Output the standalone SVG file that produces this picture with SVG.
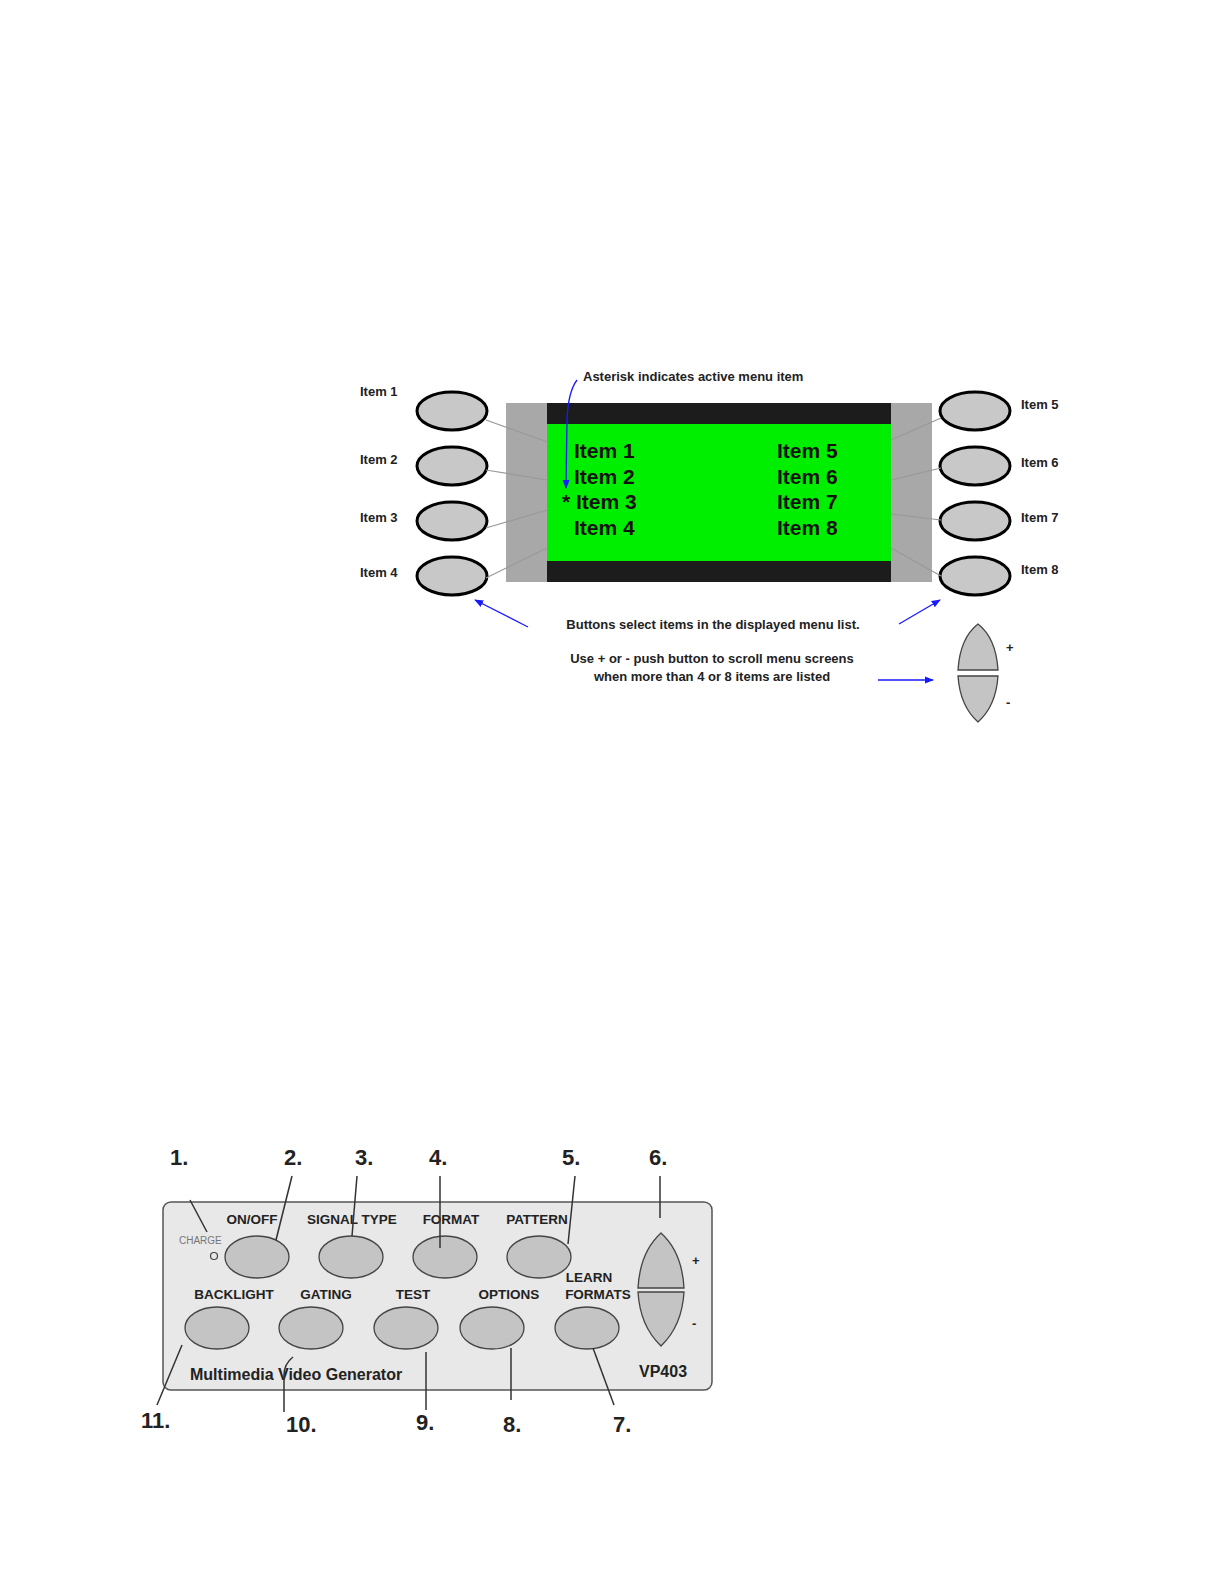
<svg xmlns="http://www.w3.org/2000/svg" width="1224" height="1584" viewBox="0 0 1224 1584">
<style>
text{font-family:"Liberation Sans",Arial,sans-serif;font-weight:bold;fill:#222}
.btn{fill:#c8c8c8;stroke:#000;stroke-width:3}
.pbtn{fill:#c4c4c4;stroke:#444;stroke-width:1.3}
.gl{stroke:#999;stroke-width:1.2}
.bl{stroke:#1a1aff;stroke-width:1.3;fill:none}
.ld{stroke:#333;stroke-width:1.5;fill:none}
.lab{font-size:13px}
.big{font-size:21px;fill:#111}
.num{font-size:22px;fill:#222}
.pl{font-size:13.5px}
</style>
<defs>
<marker id="ar" viewBox="0 0 10 10" refX="9" refY="5" markerWidth="7" markerHeight="7" orient="auto"><path d="M0,1 L10,5 L0,9 z" fill="#1a1aff"/></marker>
</defs>
<rect width="1224" height="1584" fill="#fff"/>
<g id="display">
<rect x="506" y="403" width="426" height="179" fill="#a8a8a8"/>
<rect x="547" y="403" width="344" height="179" fill="#1c1c1c"/>
<rect x="547" y="424" width="344" height="137" fill="#00ee00"/>
<text class="big" x="574" y="458">Item 1</text>
<text class="big" x="574" y="484">Item 2</text>
<text class="big" x="562" y="509">* Item 3</text>
<text class="big" x="574" y="535">Item 4</text>
<text class="big" x="777" y="458">Item 5</text>
<text class="big" x="777" y="484">Item 6</text>
<text class="big" x="777" y="509">Item 7</text>
<text class="big" x="777" y="535">Item 8</text>
</g>
<g id="left-buttons">
<ellipse class="btn" cx="452" cy="411" rx="35" ry="19"/>
<ellipse class="btn" cx="452" cy="466" rx="35" ry="19"/>
<ellipse class="btn" cx="452" cy="521" rx="35" ry="19"/>
<ellipse class="btn" cx="452" cy="576" rx="35" ry="19"/>
<text class="lab" x="360" y="396">Item 1</text>
<text class="lab" x="360" y="464">Item 2</text>
<text class="lab" x="360" y="522">Item 3</text>
<text class="lab" x="360" y="577">Item 4</text>
</g>
<g id="right-buttons">
<ellipse class="btn" cx="975" cy="411" rx="35" ry="19"/>
<ellipse class="btn" cx="975" cy="466" rx="35" ry="19"/>
<ellipse class="btn" cx="975" cy="521" rx="35" ry="19"/>
<ellipse class="btn" cx="975" cy="576" rx="35" ry="19"/>
<text class="lab" x="1021" y="409">Item 5</text>
<text class="lab" x="1021" y="467">Item 6</text>
<text class="lab" x="1021" y="522">Item 7</text>
<text class="lab" x="1021" y="574">Item 8</text>
</g>
<g id="notes">
<text class="lab" x="583" y="381">Asterisk indicates active menu item</text>
<text class="lab" x="713" y="629" text-anchor="middle">Buttons select items in the displayed  menu list.</text>
<text class="lab" x="712" y="663" text-anchor="middle">Use + or - push button to scroll menu screens</text>
<text class="lab" x="712" y="681" text-anchor="middle">when more than 4 or 8 items are listed</text>
</g>
<g id="scroll-top">
<path class="pbtn" d="M958,670 Q960,638 978,624 Q996,638 998,670 Z"/>
<path class="pbtn" d="M958,676 L998,676 Q996,706 978,722 Q960,706 958,676 Z"/>
<text class="lab" x="1006" y="652">+</text>
<text class="lab" x="1006" y="707">-</text>
</g>
<g id="panel">
<rect x="163" y="1202" width="549" height="188" rx="8" fill="#e8e8e8" stroke="#555" stroke-width="1.5"/>
<text x="179" y="1244" font-size="10" style="font-weight:normal;fill:#777">CHARGE</text>
<circle cx="214" cy="1256" r="3.5" fill="none" stroke="#444" stroke-width="1.2"/>
<ellipse class="pbtn" cx="257" cy="1257" rx="32" ry="21"/>
<ellipse class="pbtn" cx="351" cy="1257" rx="32" ry="21"/>
<ellipse class="pbtn" cx="445" cy="1257" rx="32" ry="21"/>
<ellipse class="pbtn" cx="539" cy="1257" rx="32" ry="21"/>
<ellipse class="pbtn" cx="217" cy="1328" rx="32" ry="21"/>
<ellipse class="pbtn" cx="311" cy="1328" rx="32" ry="21"/>
<ellipse class="pbtn" cx="406" cy="1328" rx="32" ry="21"/>
<ellipse class="pbtn" cx="492" cy="1328" rx="32" ry="21"/>
<ellipse class="pbtn" cx="587" cy="1328" rx="32" ry="21"/>
<text class="pl" x="252" y="1224" text-anchor="middle">ON/OFF</text>
<text class="pl" x="352" y="1224" text-anchor="middle">SIGNAL TYPE</text>
<text class="pl" x="451" y="1224" text-anchor="middle">FORMAT</text>
<text class="pl" x="537" y="1224" text-anchor="middle">PATTERN</text>
<text class="pl" x="234" y="1299" text-anchor="middle">BACKLIGHT</text>
<text class="pl" x="326" y="1299" text-anchor="middle">GATING</text>
<text class="pl" x="413" y="1299" text-anchor="middle">TEST</text>
<text class="pl" x="509" y="1299" text-anchor="middle">OPTIONS</text>
<text class="pl" x="589" y="1282" text-anchor="middle">LEARN</text>
<text class="pl" x="598" y="1299" text-anchor="middle">FORMATS</text>
<text x="190" y="1380" font-size="16">Multimedia Video Generator</text>
<text x="639" y="1377" font-size="16">VP403</text>
<path class="pbtn" d="M638,1288 Q640,1252 661,1233 Q682,1252 684,1288 Z"/>
<path class="pbtn" d="M638,1292 L684,1292 Q682,1326 661,1346 Q640,1326 638,1292 Z"/>
<text class="lab" x="692" y="1265">+</text>
<text class="lab" x="692" y="1328">-</text>
</g>
<g id="numbers">
<text class="num" x="170" y="1165">1.</text>
<text class="num" x="284" y="1165">2.</text>
<text class="num" x="355" y="1165">3.</text>
<text class="num" x="429" y="1165">4.</text>
<text class="num" x="562" y="1165">5.</text>
<text class="num" x="649" y="1165">6.</text>
<text class="num" x="141" y="1428">11.</text>
<text class="num" x="286" y="1432">10.</text>
<text class="num" x="416" y="1430">9.</text>
<text class="num" x="503" y="1432">8.</text>
<text class="num" x="613" y="1432">7.</text>
</g>
<g id="connectors">
<line class="gl" x1="486" y1="420" x2="547" y2="442"/>
<line class="gl" x1="486" y1="470" x2="547" y2="480"/>
<line class="gl" x1="486" y1="528" x2="547" y2="510"/>
<line class="gl" x1="486" y1="578" x2="547" y2="548"/>
<line class="gl" x1="941" y1="418" x2="891" y2="440"/>
<line class="gl" x1="941" y1="468" x2="891" y2="480"/>
<line class="gl" x1="941" y1="520" x2="891" y2="514"/>
<line class="gl" x1="941" y1="576" x2="891" y2="548"/>
<path class="bl" d="M577,380 Q568,392 567,420 L566,488" marker-end="url(#ar)"/>
<line class="bl" x1="528" y1="627" x2="475" y2="600" marker-end="url(#ar)"/>
<line class="bl" x1="899" y1="624" x2="940" y2="600" marker-end="url(#ar)"/>
<line class="bl" x1="878" y1="680" x2="933" y2="680" marker-end="url(#ar)"/>
<line class="ld" x1="190" y1="1200" x2="207" y2="1232"/>
<line class="ld" x1="292" y1="1176" x2="276" y2="1240"/>
<line class="ld" x1="357" y1="1176" x2="352" y2="1236"/>
<line class="ld" x1="440" y1="1176" x2="440" y2="1248"/>
<line class="ld" x1="575" y1="1176" x2="568" y2="1244"/>
<line class="ld" x1="660" y1="1176" x2="660" y2="1218"/>
<line class="ld" x1="182" y1="1345" x2="157" y2="1405"/>
<path class="ld" d="M293,1357 Q284,1364 284,1375 L284,1412"/>
<line class="ld" x1="426" y1="1352" x2="426" y2="1410"/>
<line class="ld" x1="511" y1="1348" x2="511" y2="1400"/>
<line class="ld" x1="593" y1="1348" x2="614" y2="1405"/>
</g>
</svg>
